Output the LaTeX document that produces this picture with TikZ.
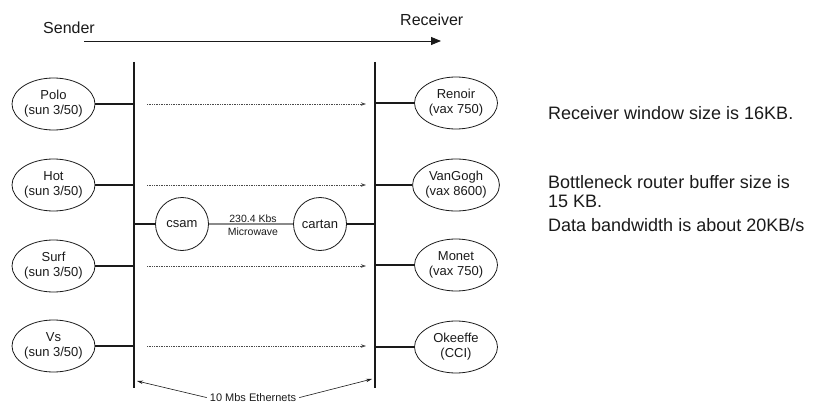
\documentclass[tikz,border=0pt]{standalone}
\usepackage{fontspec}
\setmainfont{Liberation Sans}
\usetikzlibrary{shapes.geometric,arrows.meta}
\definecolor{ink}{HTML}{1A1A1A}
\definecolor{linkgray}{HTML}{8A8A8A}
\definecolor{flowgray}{HTML}{4A4A4A}
\tikzset{
  host/.style={ellipse,draw=ink,line width=0.8pt,minimum width=83pt,minimum height=52pt,
    inner sep=0pt,align=center,text=ink,font=\fontsize{13}{15}\selectfont},
  router/.style={circle,draw=ink,line width=0.8pt,minimum size=53pt,inner sep=0pt,
    text=ink,font=\fontsize{13}{15}\selectfont},
  bus/.style={line width=2.6pt,draw=ink},
  tap/.style={line width=2.8pt,draw=ink},
  flow/.style={draw=flowgray,line width=0.7pt,densely dotted,
    -{Stealth[length=5pt,width=3.5pt,fill=flowgray]}},
  note/.style={anchor=base west,inner sep=0pt,text=ink,font=\fontsize{18}{18.3}\selectfont},
  small/.style={inner sep=0pt,text=ink,font=\fontsize{10.5}{12}\selectfont},
  pointer/.style={draw=ink,line width=0.6pt,-{Stealth[length=6pt,width=3.5pt]}}
}
\begin{document}
\begin{tikzpicture}[x=1pt,y=-1pt]
\useasboundingbox (0,0) rectangle (817,404);

% direction of transfer
\node[anchor=base west,inner sep=0pt,text=ink,font=\fontsize{16}{18}\selectfont] (sender) at (43,33.7) {Sender};
\node[anchor=base west,inner sep=0pt,text=ink,font=\fontsize{16}{18}\selectfont] (receiver) at (400,25.7) {Receiver};
\coordinate (dirA) at (84,41);
\coordinate (dirB) at (441,41);
\draw[draw=ink,line width=0.9pt,-{Triangle[length=10pt,width=8pt]}] (dirA) -- (dirB);

% the two Ethernet segments
\coordinate (ltop) at (134,62);
\coordinate (lbot) at (134,388);
\coordinate (rtop) at (375,62);
\coordinate (rbot) at (375,388);
\draw[bus] (ltop) -- (lbot);
\draw[bus] (rtop) -- (rbot);

% sending hosts
\node[host] (polo) at (53.5,104) {Polo\\(sun 3/50)};
\node[host] (hot)  at (53.5,185) {Hot\\(sun 3/50)};
\node[host] (surf) at (53.5,266) {Surf\\(sun 3/50)};
\node[host] (vs)   at (53.5,346) {Vs\\(sun 3/50)};

% receiving hosts
\node[host] (renoir)  at (456,103) {Renoir\\(vax 750)};
\node[host] (vangogh) at (456,185) {VanGogh\\(vax 8600)};
\node[host] (monet)   at (456,265) {Monet\\(vax 750)};
\node[host] (okeeffe) at (456,347) {Okeeffe\\(CCI)};

\foreach \h in {polo,hot,surf,vs} \draw[tap] (\h.east) -- (\h -| ltop);
\foreach \h in {renoir,vangogh,monet,okeeffe} \draw[tap] (\h.west) -- (\h -| rtop);

% data flows
\coordinate (fl) at (147,0);
\coordinate (fr) at (366,0);
\draw[flow] (polo -| fl) -- (polo -| fr);
\draw[flow] (hot -| fl) -- (hot -| fr);
\draw[flow] (surf -| fl) -- (surf -| fr);
\draw[flow] (vs -| fl) -- (vs -| fr);

% routers and the microwave link
\node[router] (csam)   at (182,224) {csam};
\node[router] (cartan) at (320,224) {cartan};
\draw[tap] (csam.west) -- (csam -| ltop);
\draw[tap] (cartan.east) -- (cartan -| rtop);
\draw[draw=linkgray,line width=1.3pt] (csam.east) -- (cartan.west);
\node[small,anchor=base] (rate) at (253,222) {230.4 Kbs};
\node[small,anchor=base] (mw) at (253,235) {Microwave};

% Ethernet label
\node[inner sep=0pt,text=ink,font=\fontsize{11}{13}\selectfont,anchor=base] (eth) at (253,401.5) {10 Mbs Ethernets};
\coordinate (lhit) at (137,381);
\coordinate (rhit) at (372,379);
\draw[pointer] ([xshift=-3pt]eth.west) -- (lhit);
\draw[pointer] ([xshift=3pt]eth.east) -- (rhit);

% notes
\node[note] (n1) at (548,119.5) {Receiver window size is 16KB.};
\node[note] (n2) at (548,188.5) {Bottleneck router buffer size is};
\node[note] (n3) at (548,207) {15 KB.};
\node[note] (n4) at (548,231.5) {Data bandwidth is about 20KB/s};
\end{tikzpicture}
\end{document}
